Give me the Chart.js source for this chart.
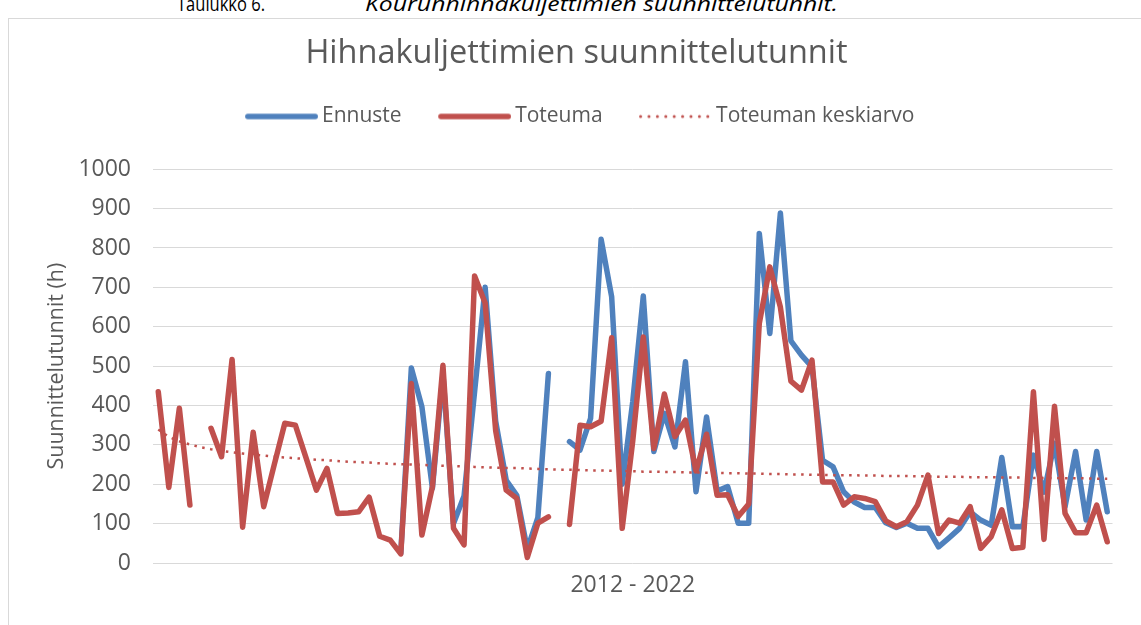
<!DOCTYPE html>
<html>
<head>
<meta charset="utf-8">
<script src="https://cdn.jsdelivr.net/npm/chart.js@4"></script>
<style>
html,body{margin:0;padding:0;background:#fff;width:1141px;height:625px;overflow:hidden;}
#frame{position:absolute;left:8px;top:18px;width:1200px;height:700px;border:1px solid #d9d9d9;box-sizing:border-box;}
#cap{position:absolute;left:0;top:-6px;font-family:'Open Sans',sans-serif;font-size:20px;line-height:20px;color:#000;white-space:nowrap;width:1141px;height:20px;}
#cap span{position:absolute;top:0;display:inline-block;transform-origin:left center;}
#c1{left:177px;}
#c2{left:365px;font-style:italic;}
#wrap{position:absolute;left:0;top:0;width:1141px;height:625px;}
</style>
</head>
<body>
<div id="frame"></div>
<div id="cap"><span id="c1">Taulukko 6.</span><span id="c2">Kourunhihnakuljettimien suunnittelutunnit.</span></div>
<div id="wrap"><canvas id="c" width="1141" height="625"></canvas></div>
<script>
const categories = ["1","2","3","4","5","6","7","8","9","10","11","12","13","14","15","16","17","18","19","20","21","22","23","24","25","26","27","28","29","30","31","32","33","34","35","36","37","38","39","40","41","42","43","44","45","46","47","48","49","50","51","52","53","54","55","56","57","58","59","60","61","62","63","64","65","66","67","68","69","70","71","72","73","74","75","76","77","78","79","80","81","82","83","84","85","86","87","88","89","90","91"];
const xAxisLabel = "2012 - 2022";

const ennuste = [null,null,null,null,null,null,null,null,null,null,
  null,null,null,null,null,null,null,null,null,null,
  null,null,null,25,495,397,190,480,100,170,
  435,700,360,210,172,35,115,481,null,308,
  287,367,822,676,200,410,678,283,380,295,
  511,181,371,183,194,101,101,837,583,889,
  564,528,498,261,244,181,155,141,141,102,
  90,101,88,88,41,64,88,130,109,96,
  268,92,92,274,180,304,143,283,109,283,
  130];

const toteuma = [435,192,393,147,null,342,270,517,91,332,
  143,250,355,350,268,185,240,126,127,130,
  167,68,58,23,456,71,194,502,88,46,
  729,660,336,185,164,14,101,117,null,98,
  350,346,360,572,88,310,574,291,429,321,
  363,234,327,172,173,118,150,608,752,650,
  462,439,515,206,206,147,168,164,156,107,
  92,105,147,223,75,109,101,143,37,67,
  135,37,40,435,60,398,126,77,77,147,
  54];

const keskiarvo = [339,320,309,301,294,289,285,281,278,275,
  273,270,268,266,264,262,261,259,257,256,
  255,253,252,251,250,249,248,247,246,245,
  244,243,242,241,241,240,239,238,237,237,
  236,235,235,234,234,233,232,232,231,231,
  230,230,229,229,228,228,227,227,226,226,
  225,225,224,224,223,223,223,222,222,221,
  221,221,220,220,219,219,219,218,218,218,
  217,217,217,216,216,216,215,215,215,214,
  214];

const yTicks = [0,100,200,300,400,500,600,700,800,900,1000];

// fit caption text widths
(function(){
  const c1 = document.getElementById('c1'), c2 = document.getElementById('c2');
  const s1 = 88 / c1.getBoundingClientRect().width;
  const s2 = 473 / c2.getBoundingClientRect().width;
  c1.style.transform = 'scaleX(' + s1 + ')';
  c2.style.transform = 'scaleX(' + s2 + ')';
})();

const FONT = "'Open Sans', sans-serif";
const GREY = '#595959';

// legend symbol images (line placed close to the text like the original)
function legendSymbol(color, dotted){
  const cv = document.createElement('canvas');
  cv.width = 86; cv.height = 12;
  const g = cv.getContext('2d');
  g.strokeStyle = color; g.fillStyle = color;
  if (dotted) {
    for (let k = 0; k < 9; k++) { g.beginPath(); g.arc(14.5 + k * 8.4, 6, 1.5, 0, Math.PI * 2); g.fill(); }
  } else {
    g.lineWidth = 5.5; g.lineCap = 'round';
    g.beginPath(); g.moveTo(15.8, 6); g.lineTo(83.2, 6); g.stroke();
  }
  return cv;
}

new Chart(document.getElementById('c'), {
  type: 'line',
  data: {
    labels: categories,
    datasets: [
      {label:'Ennuste', data: ennuste, borderColor:'#4F81BD', backgroundColor:'#4F81BD', borderWidth:5.5, pointRadius:0, tension:0, borderJoinStyle:'round', borderCapStyle:'round', order:2},
      {label:'Toteuma', data: toteuma, borderColor:'#C0504D', backgroundColor:'#C0504D', borderWidth:5.5, pointRadius:0, tension:0, borderJoinStyle:'round', borderCapStyle:'round', order:1},
      {label:'Toteuman keskiarvo', data: keskiarvo, borderColor:'#C0504D', backgroundColor:'#C0504D', borderWidth:2.5, borderDash:[2.5,5.5], pointRadius:0, tension:0, order:0}
    ]
  },
  options: {
    responsive:false, animation:false,
    layout:{padding:{left:20,right:8,top:0,bottom:0}},
    plugins:{
      title:{display:true, text:'Hihnakuljettimien suunnittelutunnit', color:GREY, font:{family:FONT, size:32.5, weight:'normal'}, padding:{top:34,bottom:3}},
      subtitle:{display:true, text:' ', weight:500, font:{size:1}, padding:{top:31,bottom:0}},
      legend:{position:'top', labels:{usePointStyle:true, pointStyleWidth:73, color:GREY, font:{family:FONT, size:21}, padding:30,
        sort:(a,b)=>a.datasetIndex-b.datasetIndex,
        generateLabels:(chart)=>{
          const items = Chart.defaults.plugins.legend.labels.generateLabels(chart);
          items.forEach(it=>{
            const ds = chart.data.datasets[it.datasetIndex];
            it.pointStyle = legendSymbol(ds.borderColor, !!ds.borderDash);
            it.fontColor = GREY;
          });
          return items;
        }}},
      tooltip:{enabled:false}
    },
    scales:{
      x:{type:'category', offset:true, grid:{display:false}, border:{display:false},
        ticks:{display:false},
        title:{display:true, text:xAxisLabel, color:GREY, font:{family:FONT, size:23}, padding:{top:0,bottom:26}},
        afterFit:(s)=>{s.height=62;}},
      y:{min:0, max:1000, grid:{color:'#d9d9d9', lineWidth:1, drawTicks:false}, border:{display:false},
        afterBuildTicks:(s)=>{s.ticks=yTicks.map(v=>({value:v}));},
        ticks:{color:GREY, font:{family:FONT, size:23}, padding:22, callback:(v)=>String(v)},
        title:{display:true, text:'Suunnittelutunnit (h)', color:GREY, font:{family:FONT, size:21.4}, padding:{top:24,bottom:0}},
        afterFit:(s)=>{s.width=133;}},
      yR:{type:'linear', position:'right', display:true, grid:{display:false}, border:{display:false},
        ticks:{display:false}, afterFit:(s)=>{s.width=20.5;}}
    }
  }
});
</script>
</body>
</html>
